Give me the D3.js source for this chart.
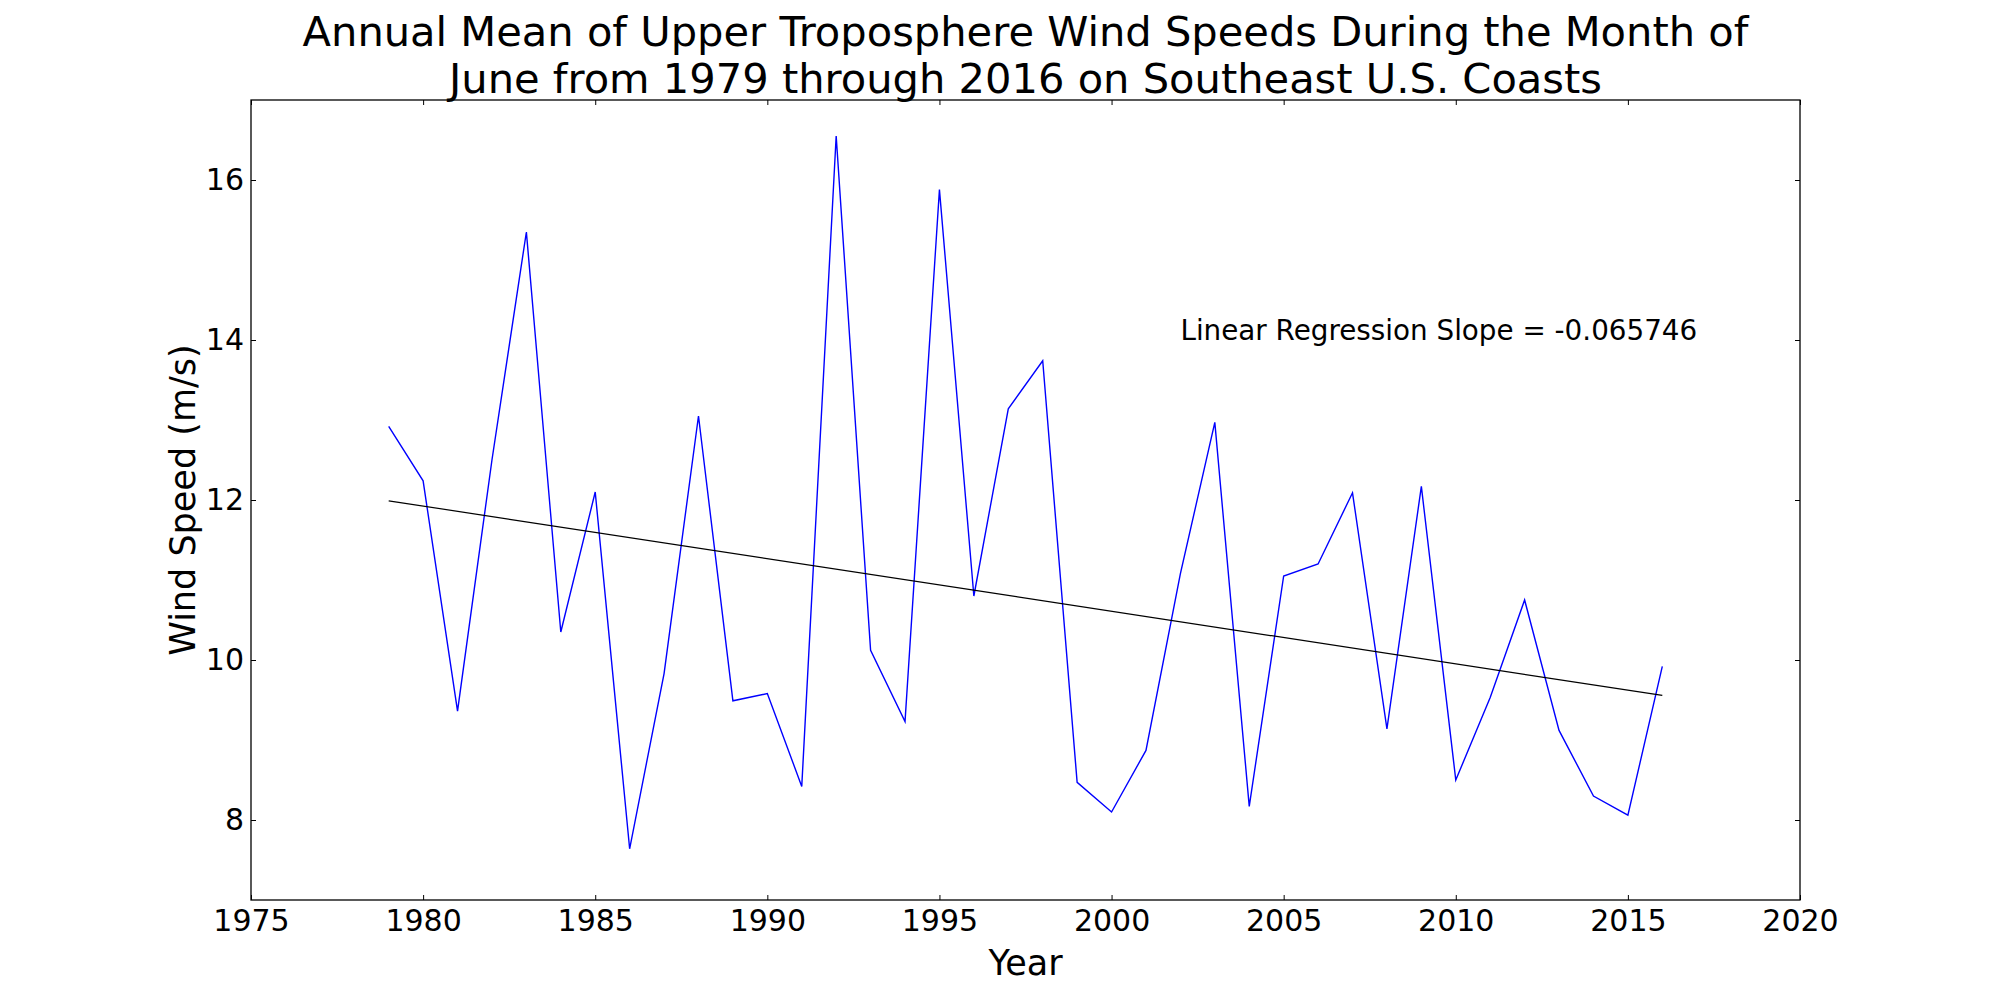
<!DOCTYPE html>
<html>
<head>
<meta charset="utf-8">
<script src="https://cdn.jsdelivr.net/npm/d3@7"></script>
<style>
  body { margin: 0; background: #fff; }
  svg text { font-family: "DejaVu Sans", sans-serif; fill: #000; }
</style>
</head>
<body>
<svg id="chart" width="2000" height="1000"></svg>
<script>
// values
const years = [1979, 1980, 1981, 1982, 1983, 1984, 1985, 1986, 1987, 1988,
  1989, 1990, 1991, 1992, 1993, 1994, 1995, 1996, 1997, 1998,
  1999, 2000, 2001, 2002, 2003, 2004, 2005, 2006, 2007, 2008,
  2009, 2010, 2011, 2012, 2013, 2014, 2015, 2016];
const windSpeed = [12.92, 12.24, 9.36, 12.50, 15.35, 10.35, 12.10, 7.64, 9.83, 13.05,
  9.49, 9.58, 8.42, 16.55, 10.12, 9.23, 15.88, 10.80, 13.14, 13.74,
  8.47, 8.10, 8.87, 11.08, 12.97, 8.17, 11.05, 11.20, 12.09, 9.14,
  12.17, 8.50, 9.53, 10.75, 9.12, 8.30, 8.06, 9.92];
const xTicks = [1975, 1980, 1985, 1990, 1995, 2000, 2005, 2010, 2015, 2020];
const yTicks = [8, 10, 12, 14, 16];
const trendSlope = -0.065746;
const trendAtStart = 11.99;   // fitted value in the first year
const titleLines = ["Annual Mean of Upper Troposphere Wind Speeds During the Month of",
  "June from 1979 through 2016 on Southeast U.S. Coasts"];

const svg = d3.select("#chart");
const plotLeft = 251, plotRight = 1800, plotTop = 100, plotBottom = 900;

const x = d3.scaleLinear().domain([1975, 2020]).range([plotLeft, plotRight]);
const y = d3.scaleLinear().domain([7, 17]).range([plotBottom, plotTop]);

svg.append("rect").attr("width", 2000).attr("height", 1000).attr("fill", "#fff");

// series
const line = d3.line()
  .x(d => x(d[0]))
  .y(d => y(d[1]));

svg.append("path")
  .datum(years.map((yr, i) => [yr, windSpeed[i]]))
  .attr("d", line)
  .attr("fill", "none")
  .attr("stroke", "#0000ff")
  .attr("stroke-width", 1.4);

// regression line
const firstYear = years[0], lastYear = years[years.length - 1];
svg.append("path")
  .datum([[firstYear, trendAtStart], [lastYear, trendAtStart + trendSlope * (lastYear - firstYear)]])
  .attr("d", line)
  .attr("fill", "none")
  .attr("stroke", "#000")
  .attr("stroke-width", 1.2);

// axes, ticks pointing in
const fmt = d3.format("d");
function styleAxis(g) {
  g.select(".domain").remove();
  g.selectAll(".tick line").attr("stroke", "#000").attr("stroke-width", 1);
  g.selectAll(".tick text").attr("font-family", "DejaVu Sans").style("font-size", "30px");
}

svg.append("g").attr("transform", `translate(0,${plotBottom})`)
  .call(d3.axisBottom(x).tickValues(xTicks).tickFormat(fmt).tickSize(-5).tickPadding(10))
  .call(styleAxis);
svg.append("g").attr("transform", `translate(0,${plotTop})`)
  .call(d3.axisTop(x).tickValues(xTicks).tickFormat("").tickSize(-5))
  .call(styleAxis);
svg.append("g").attr("transform", `translate(${plotLeft},0)`)
  .call(d3.axisLeft(y).tickValues(yTicks).tickFormat(fmt).tickSize(-5).tickPadding(7))
  .call(styleAxis);
svg.append("g").attr("transform", `translate(${plotRight},0)`)
  .call(d3.axisRight(y).tickValues(yTicks).tickFormat("").tickSize(-5))
  .call(styleAxis);

// frame
svg.append("rect")
  .attr("x", plotLeft).attr("y", plotTop)
  .attr("width", plotRight - plotLeft).attr("height", plotBottom - plotTop)
  .attr("fill", "none").attr("stroke", "#000").attr("stroke-width", 1.3);

// title
svg.append("text")
  .attr("text-anchor", "middle")
  .style("font-size", "41.6px")
  .selectAll("tspan").data(titleLines).join("tspan")
  .attr("x", (plotLeft + plotRight) / 2)
  .attr("y", (d, i) => 46 + i * 47)
  .text(d => d);

// axis labels
svg.append("text")
  .attr("x", (plotLeft + plotRight) / 2).attr("y", 975)
  .attr("text-anchor", "middle")
  .style("font-size", "35px")
  .text("Year");

svg.append("text")
  .attr("transform", `translate(195,${(plotTop + plotBottom) / 2}) rotate(-90)`)
  .attr("text-anchor", "middle")
  .style("font-size", "35px")
  .text("Wind Speed (m/s)");

// slope annotation
svg.append("text")
  .attr("x", x(2002)).attr("y", y(14))
  .style("font-size", "27.8px")
  .text("Linear Regression Slope = " + trendSlope);
</script>
</body>
</html>
